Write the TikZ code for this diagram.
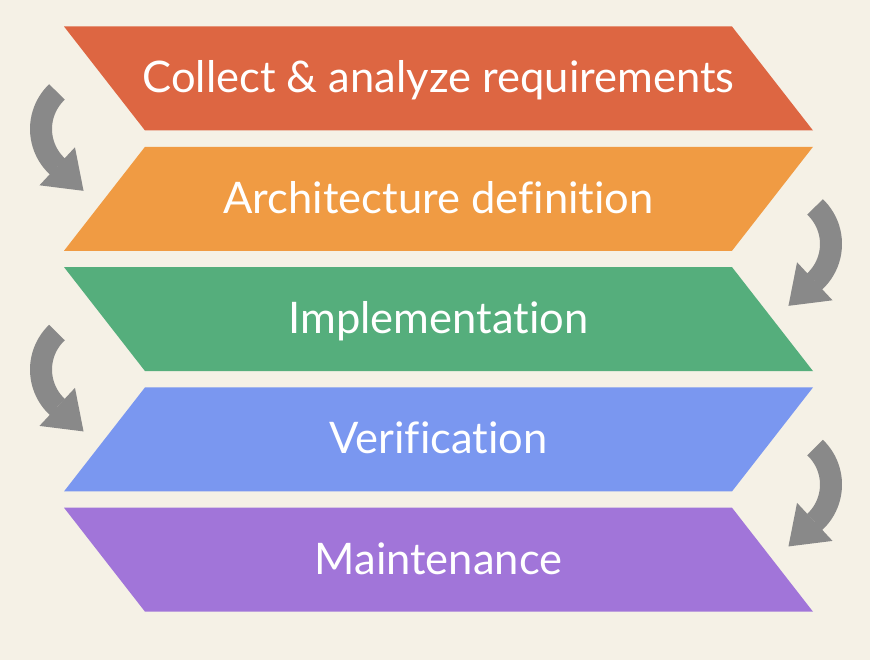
\documentclass[tikz,border=0pt]{standalone}
\usepackage{fontspec}
\setmainfont{Lato}[Ligatures={NoCommon, NoRequired, NoContextual}]
\usepackage{xcolor}
\definecolor{paper}{HTML}{F5F1E6}
\definecolor{arrowgray}{HTML}{898989}
\definecolor{collectc}{HTML}{DD6642}
\definecolor{archc}{HTML}{F09B43}
\definecolor{implc}{HTML}{55AE7C}
\definecolor{verifc}{HTML}{7A97F0}
\definecolor{maintc}{HTML}{A175D9}
\usepackage{tikz}
\usetikzlibrary{arrows.meta, positioning, calc}

\begin{document}
\begin{tikzpicture}[
  x=1pt, y=1pt,
  font=\fontsize{43.5}{50}\selectfont,
  phase/.style={text=white, anchor=base, inner sep=0pt},
  turn/.style={
    draw=arrowgray, line width=22pt,
    -{Triangle[length=36pt, width=52pt, line width=0pt]}
  }
]
  \fill[paper] (0,0) rectangle (870,660);
  % the five phases
  \fill[collectc] (64,633.5) -- (732,633.5) -- (813,529.5) -- (145,529.5) -- cycle;
  \fill[archc] (145,513.2) -- (813,513.2) -- (732,409.2) -- (64,409.2) -- cycle;
  \fill[implc] (64,392.9) -- (732,392.9) -- (813,288.9) -- (145,288.9) -- cycle;
  \fill[verifc] (145,272.6) -- (813,272.6) -- (732,168.6) -- (64,168.6) -- cycle;
  \fill[maintc] (64,152.3) -- (732,152.3) -- (813,48.3) -- (145,48.3) -- cycle;
  \node[phase] (collect) at (438.5,567) {Collect \& analyze requirements};
  \node[phase] (arch)    at (438.5,446.7) {Architecture definition};
  \node[phase] (impl)    at (438.5,326.4) {Implementation};
  \node[phase] (verif)   at (438.5,206.1) {Verification};
  \node[phase] (maint)   at (438.5,85.8) {Maintenance};
  % turning arrows between phases
  \coordinate (turnA) at (92,531);
  \coordinate (turnB) at (780,416);
  \coordinate (turnC) at (92,290.4);
  \coordinate (turnD) at (780,175.4);
  \foreach \c in {turnA, turnC}
    \draw[turn] ($(\c)+(133.4:51)$) arc[start angle=133.4, end angle=227, radius=51]
      -- ++(-43:36);
  \foreach \c in {turnB, turnD}
    \draw[turn] ($(\c)+(46.6:51)$) arc[start angle=46.6, end angle=-47, radius=51]
      -- ++(223:36);
\end{tikzpicture}
\end{document}
